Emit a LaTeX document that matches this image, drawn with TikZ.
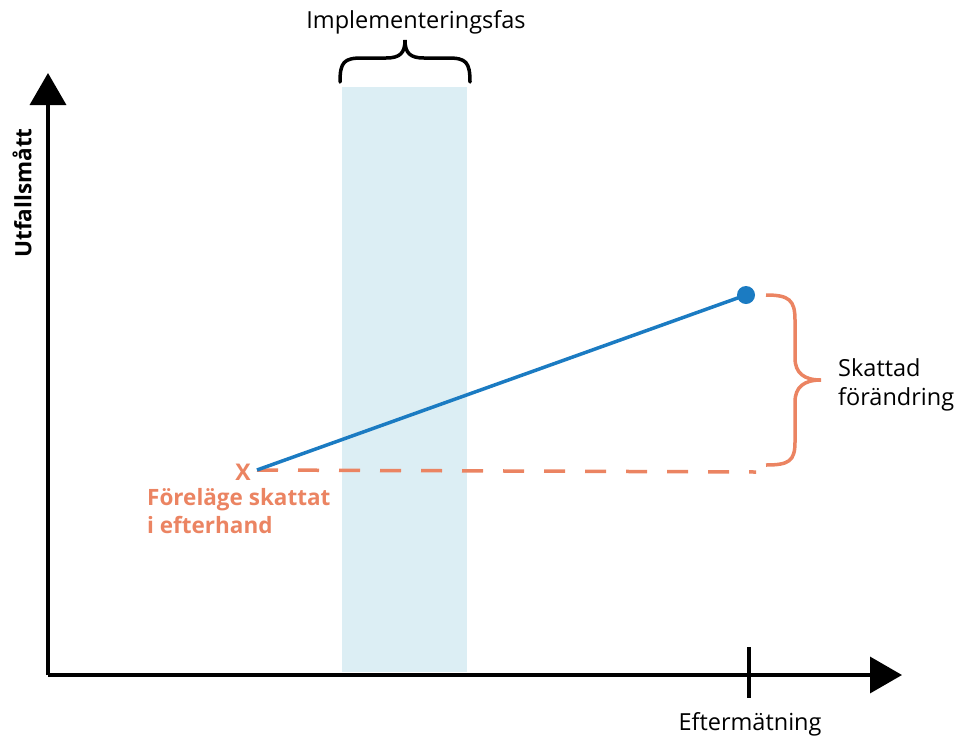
\documentclass[tikz,border=0pt]{standalone}
\usepackage{fontspec}
\setmainfont{Open Sans}
\usetikzlibrary{arrows.meta}
\definecolor{lineblue}{HTML}{1B7BC2}
\definecolor{phaseblue}{HTML}{DCEEF4}
\definecolor{estorange}{HTML}{EB8462}
\begin{document}
\begin{tikzpicture}[x=1pt,y=-1pt,
  axis/.style={line width=3.5pt, -{Triangle[length=32pt,width=36pt]}},
  tickmark/.style={line width=3.5pt},
  bracepath/.style={line width=3.5pt, line cap=round},
  lbl/.style={font=\fontsize{23.5}{29}\selectfont, inner sep=0pt},
  orangelbl/.style={lbl, text=estorange, font=\fontsize{22.5}{28}\selectfont\bfseries, align=left},
  trend/.style={line width=3.5pt, lineblue},
  baseline/.style={line width=3.5pt, estorange, dash pattern=on 21pt off 20pt}]
\useasboundingbox (0,0) rectangle (955,737);

% implementation phase band
\fill[phaseblue] (342,87) rectangle (467,672);

% axes
\coordinate (origin) at (48,675);
\coordinate (ytip) at (48,73);
\coordinate (xtip) at (902,675);
\draw[axis] (origin) -- (ytip);
\draw[axis] (origin) -- (xtip);
\coordinate (tickTop) at (749,647);
\coordinate (tickBot) at (749,698);
\draw[tickmark] (tickTop) -- (tickBot);

\node[lbl, font=\fontsize{22.5}{28}\selectfont\bfseries, rotate=90] (ylabel) at (22,193) {Utfallsmått};
\node[lbl] (xlabel) at (750,724) {Eftermätning};

% brace over the phase band
\draw[bracepath] (340,82) .. controls (340,62) and (344,58) .. (362,58)
  -- (386,58) .. controls (400,58) and (405,53) .. (405,40)
  .. controls (405,53) and (410,58) .. (424,58)
  -- (448,58) .. controls (466,58) and (470,62) .. (470,82);
\node[lbl] (phase) at (416,22) {Implementeringsfas};

% counterfactual start and measured end
\node[text=estorange, font=\fontsize{23}{28}\selectfont\bfseries, inner sep=0pt] (cross) at (243,472) {X};
\coordinate (start) at (257,470);
\node[circle, fill=lineblue, minimum size=18pt, inner sep=0pt] (endpt) at (746,295) {};
\coordinate (baseEnd) at (756,472);
\draw[baseline] (start) -- (baseEnd);
\draw[trend] (start) -- (endpt.center);

\node[orangelbl, anchor=north west] (cflabel) at (147,488) {Föreläge skattat\\i efterhand};

% brace for the estimated change
\draw[bracepath, estorange, line cap=butt] (766,295) .. controls (789,295) and (795,300) .. (795,320)
  -- (795,358) .. controls (795,373) and (804,380) .. (821,380)
  .. controls (804,380) and (795,387) .. (795,402)
  -- (795,442) .. controls (795,461) and (789,465) .. (766,465);
\node[lbl, anchor=west, align=left] (change) at (838,385) {Skattad\\förändring};
\end{tikzpicture}
\end{document}
